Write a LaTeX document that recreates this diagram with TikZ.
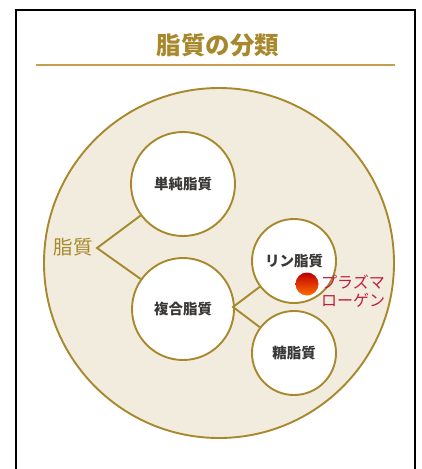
\documentclass[tikz,border=0pt]{standalone}
\usepackage{fontspec}
\newfontfamily\jpfont{Noto Sans CJK JP}
\definecolor{LipidGold}{RGB}{168, 136, 44}
\definecolor{LipidLine}{RGB}{196, 160, 78}
\definecolor{LipidBeige}{RGB}{242, 236, 222}
\definecolor{LipidText}{RGB}{58, 56, 54}
\definecolor{LipidRed}{RGB}{192, 30, 62}
\usetikzlibrary{positioning}

\begin{document}
\begin{tikzpicture}[x=1pt, y=-1pt,
    subclass/.style={circle, draw=LipidGold, line width=1.9pt, fill=white, inner sep=0pt, font=\jpfont\bfseries\fontsize{14.5}{17}\selectfont, text=LipidText},
    branch/.style={draw=LipidGold, line width=1.9pt}]
    \useasboundingbox (0,0) rectangle (422,469);
    % frame and heading
    \draw[line width=1.2pt] (16,469) -- (16,10) -- (415,10) -- (415,469);
    \node[font=\jpfont\bfseries\fontsize{24.5}{28}\selectfont, text=LipidGold] (title) at (218,45) {脂質の分類};
    \draw[LipidLine, line width=1.5pt] (36,65) -- (395,65);
    % big circle
    \node[circle, draw=LipidGold, line width=1.9pt, fill=LipidBeige, minimum size=350pt, inner sep=0pt] (lipids) at (219,263) {};
    \node[font=\jpfont\fontsize{19.5}{22}\selectfont, text=LipidGold] (lipid) at (73,247) {脂質};
    \coordinate (fork1) at (97,248);
    % sub classes
    \node[subclass, minimum size=104pt] (simple) at (183,184) {単純脂質};
    \node[subclass, minimum size=102pt] (complex) at (183,309) {複合脂質};
    \node[subclass, minimum size=84pt] (phospho) at (294,261) {リン脂質};
    \node[subclass, minimum size=84pt] (glyco) at (294,353) {糖脂質};
    \coordinate (fork2) at (233,307);
    \draw[branch] (simple) -- (fork1) -- (complex);
    \draw[branch] (phospho) -- (fork2) -- (glyco);
    % plasmalogen
    \node[circle, minimum size=23pt, inner sep=0pt, top color=red!75!black, bottom color=orange!85!red] (dot) at (307,284) {};
    \node[anchor=west, align=left, font=\jpfont\fontsize{16}{18}\selectfont, text=LipidRed, inner sep=0pt] (plasmalogen) at (321,291) {プラズマ\\ローゲン};
\end{tikzpicture}
\end{document}
